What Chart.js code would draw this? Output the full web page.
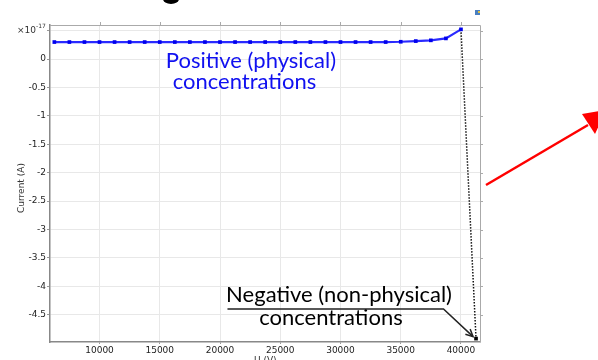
<!DOCTYPE html>
<html>
<head>
<meta charset="utf-8">
<script src="https://cdn.jsdelivr.net/npm/chart.js@4.4.0/dist/chart.umd.min.js"></script>
<style>
  html, body { margin: 0; padding: 0; background: #fff; }
  #wrap { position: relative; width: 598px; height: 360px; }
</style>
</head>
<body>
<div id="wrap"><canvas id="ivChart" width="598" height="360"></canvas></div>
<script>
// Voltage sweep (V) and current (x 1e-17 A)
const U_VALUES = [6250, 7500, 8750, 10000, 11250, 12500, 13750, 15000, 16250, 17500,
  18750, 20000, 21250, 22500, 23750, 25000, 26250, 27500, 28750, 30000,
  31250, 32500, 33750, 35000, 36250, 37500, 38750, 40000];
const I_VALUES = [0.30, 0.30, 0.30, 0.30, 0.30, 0.30, 0.30, 0.30, 0.30, 0.30,
  0.30, 0.30, 0.30, 0.30, 0.30, 0.30, 0.30, 0.30, 0.30, 0.30,
  0.30, 0.30, 0.30, 0.305, 0.317, 0.33, 0.364, 0.523];
// last step diverges to a non-physical solution
const U_JUMP = [40000, 41250];
const I_JUMP = [0.523, -4.92];

const X_TICKS = [10000, 15000, 20000, 25000, 30000, 35000, 40000];
const Y_TICKS = [0.5, 0, -0.5, -1, -1.5, -2, -2.5, -3, -3.5, -4, -4.5];
const X_RANGE = [5890, 41580];
const Y_RANGE = [-4.98, 0.6];

const TICK_FONT = { family: 'DejaVu Sans', size: 9 };

function pts(xs, ys) { return xs.map((x, i) => ({ x, y: ys[i] })); }

// frame, exponent, axis titles and the text callouts
const extras = {
  id: 'extras',
  afterDraw(chart) {
    const { ctx, chartArea: a, scales } = chart;
    const xs = scales.x, ys = scales.y;
    ctx.save();

    // top / right frame with outward ticks
    ctx.strokeStyle = '#aaa';
    ctx.lineWidth = 1;
    ctx.beginPath();
    ctx.moveTo(a.left, a.top + 0.5); ctx.lineTo(a.right + 0.5, a.top + 0.5); ctx.lineTo(a.right + 0.5, a.bottom);
    X_TICKS.forEach(v => { const p = Math.round(xs.getPixelForValue(v)) + 0.5; ctx.moveTo(p, a.top); ctx.lineTo(p, a.top - 3); });
    Y_TICKS.forEach(v => { const p = Math.round(ys.getPixelForValue(v)) + 0.5; ctx.moveTo(a.right, p); ctx.lineTo(a.right + 3, p); });
    ctx.stroke();

    // exponent
    ctx.fillStyle = '#333';
    ctx.textBaseline = 'alphabetic';
    ctx.font = '9px "DejaVu Sans"';
    ctx.textAlign = 'left';
    ctx.fillText('×10', 17, 33);
    ctx.font = '6px "DejaVu Sans"';
    ctx.fillText('-17', 36, 28);

    // axis titles
    ctx.font = '9px "DejaVu Sans"';
    ctx.textAlign = 'center';
    ctx.save();
    ctx.translate(24, 188);
    ctx.rotate(-Math.PI / 2);
    ctx.fillText('Current (A)', 0, 0);
    ctx.restore();
    ctx.fillText('U (V)', xs.getPixelForValue(25000) - 15, 363);

    // callouts
    ctx.font = '22px Lato';
    ctx.fillStyle = '#1010f0';
    ctx.fillText('Positive (physical)', xs.getPixelForValue(22570), ys.getPixelForValue(-0.16));
    ctx.fillText('concentrations', xs.getPixelForValue(22030), ys.getPixelForValue(-0.53));

    ctx.fillStyle = '#000';
    ctx.font = '22px Lato';
    ctx.fillText('Negative (non-physical)', xs.getPixelForValue(29880), ys.getPixelForValue(-4.28));
    ctx.fillText('concentrations', xs.getPixelForValue(29210), ys.getPixelForValue(-4.68));

    // underline leading to the diverged point
    const ux0 = xs.getPixelForValue(20620), ux1 = xs.getPixelForValue(38550);
    const uy = ys.getPixelForValue(-4.40);
    const tx = xs.getPixelForValue(U_JUMP[1]) - 3, ty = ys.getPixelForValue(I_JUMP[1]) - 2;
    ctx.strokeStyle = '#222';
    ctx.lineWidth = 1.5;
    ctx.beginPath();
    ctx.moveTo(ux0, uy); ctx.lineTo(ux1, uy); ctx.lineTo(tx, ty);
    ctx.stroke();
    arrowHead(ctx, ux1, uy, tx, ty, 8, '#222');

    // red pointer off to the right
    ctx.strokeStyle = '#ff0000';
    ctx.lineWidth = 2.5;
    ctx.beginPath();
    ctx.moveTo(486, 185); ctx.lineTo(588, 125);
    ctx.stroke();
    ctx.fillStyle = '#ff0000';
    ctx.beginPath();
    ctx.moveTo(606, 110); ctx.lineTo(582, 114); ctx.lineTo(595, 134); ctx.closePath();
    ctx.fill();

    // fragment of heading glyph and window icon
    ctx.fillStyle = '#000';
    ctx.beginPath();
    ctx.ellipse(171, -1, 8, 5, 0, 0, Math.PI * 2);
    ctx.fill();
    ctx.fillStyle = '#4a7fc0';
    ctx.fillRect(475, 10, 5, 5);
    ctx.fillStyle = '#e0c040';
    ctx.fillRect(478, 11, 2, 2);

    ctx.restore();
  }
};

function arrowHead(ctx, x0, y0, x1, y1, size, color) {
  const ang = Math.atan2(y1 - y0, x1 - x0);
  ctx.save();
  ctx.strokeStyle = color;
  ctx.lineWidth = 1.5;
  ctx.beginPath();
  ctx.moveTo(x1 - size * Math.cos(ang - 0.45), y1 - size * Math.sin(ang - 0.45));
  ctx.lineTo(x1, y1);
  ctx.lineTo(x1 - size * Math.cos(ang + 0.45), y1 - size * Math.sin(ang + 0.45));
  ctx.stroke();
  ctx.restore();
}

new Chart(document.getElementById('ivChart'), {
  type: 'line',
  data: {
    datasets: [
      {
        data: pts(U_VALUES, I_VALUES),
        borderColor: '#2a2aff',
        backgroundColor: '#0000ee',
        borderWidth: 2.2,
        pointStyle: 'rect',
        pointRadius: 2.6,
        pointBorderWidth: 0,
        tension: 0
      },
      {
        data: pts(U_JUMP, I_JUMP),
        borderColor: '#111',
        backgroundColor: '#000',
        borderWidth: 1.5,
        borderDash: [1.5, 1.5],
        pointStyle: 'rect',
        pointRadius: [0, 2.6],
        pointBorderWidth: 0,
        tension: 0
      }
    ]
  },
  options: {
    responsive: false,
    animation: false,
    layout: { padding: { left: 0, top: 25, right: 118, bottom: 0 } },
    plugins: { legend: { display: false }, tooltip: { enabled: false } },
    scales: {
      x: {
        type: 'linear',
        min: X_RANGE[0], max: X_RANGE[1],
        afterBuildTicks: s => { s.ticks = X_TICKS.map(v => ({ value: v })); },
        afterFit: s => { s.height = 18; },
        grid: { color: '#e8e8e8', tickLength: 2, tickColor: '#999' },
        border: { color: '#888', width: 1.5 },
        ticks: { font: TICK_FONT, color: '#222', padding: 1, maxRotation: 0, callback: v => String(v) }
      },
      y: {
        type: 'linear',
        min: Y_RANGE[0], max: Y_RANGE[1],
        afterBuildTicks: s => { s.ticks = Y_TICKS.map(v => ({ value: v })); },
        afterFit: s => { s.width = 50; },
        grid: { color: '#e8e8e8', tickLength: 3, tickColor: '#999' },
        border: { color: '#888', width: 1.5 },
        ticks: { font: TICK_FONT, color: '#222', padding: 1, callback: v => (v === 0.5 ? '' : String(v)) }
      }
    }
  },
  plugins: [extras]
});
</script>
</body>
</html>
